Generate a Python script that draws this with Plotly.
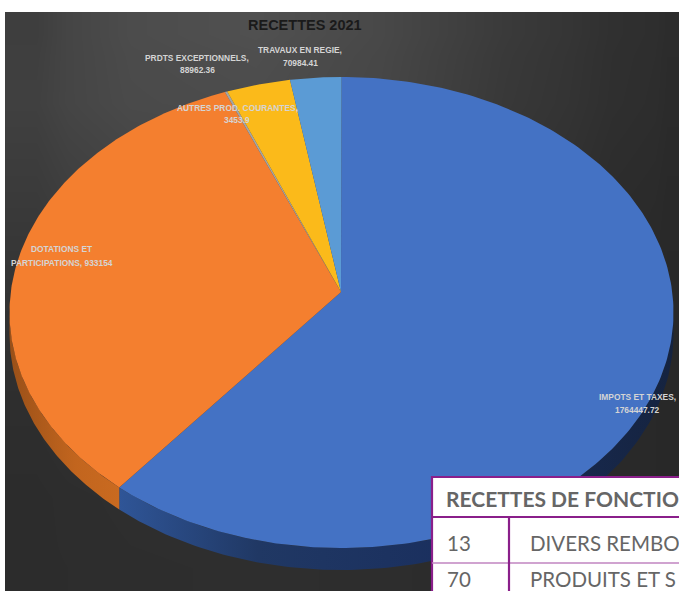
import numpy as np
import plotly.graph_objects as go

# ---------- data ----------
CATEGORIES = ["IMPOTS ET TAXES", "DOTATIONS ET PARTICIPATIONS", "AUTRES PROD. COURANTES",
              "PRDTS EXCEPTIONNELS", "TRAVAUX EN REGIE"]
VALUES = [1764447.72, 933154.00, 3453.90, 88962.36, 70984.41]
COLORS = ["#4472C4", "#F47F2F", "#A5A5A5", "#FBBA1A", "#5B9BD5"]
TITLE = "RECETTES 2021"
LABEL_LINES = [
    ("IMPOTS ET TAXES,", "1764447.72"),
    ("DOTATIONS ET", "PARTICIPATIONS, 933154"),
    ("AUTRES PROD. COURANTES,", "3453.9"),
    ("PRDTS EXCEPTIONNELS,", "88962.36"),
    ("TRAVAUX EN REGIE,", "70984.41"),
]

BG_X = [5, 68, 193, 318, 443, 568, 655, 679]
BG_Y = [12, 56, 150, 250, 350, 450, 545, 591]
BG_GREY = [
    [0x3e, 0x4c, 0x50, 0x48, 0x3a, 0x30, 0x2c],
    [0x40, 0x4a, 0x4c, 0x46, 0x38, 0x2f, 0x2b],
    [0x3a, 0x42, 0x44, 0x40, 0x34, 0x2c, 0x29],
    [0x33, 0x3a, 0x3c, 0x38, 0x30, 0x2a, 0x28],
    [0x2e, 0x32, 0x34, 0x32, 0x2c, 0x29, 0x28],
    [0x2c, 0x2e, 0x2f, 0x2e, 0x2b, 0x29, 0x28],
    [0x2c, 0x2d, 0x2e, 0x2d, 0x2b, 0x29, 0x28],
]

TABLE_HEADER = "RECETTES DE FONCTIO"
TABLE_CODES = ["13", "70"]
TABLE_ROWS = ["DIVERS REMBO", "PRODUITS ET S"]

# ---------- geometry ----------
W, H = 679, 591
APEX = (341, 292)
CX, CY, RX, RY = 341.5, 312.5, 332, 235.5
DEPTH = 22


def rim(theta, dy=0.0):
    return CX + RX * np.sin(theta), CY - RY * np.cos(theta) + dy


fig = go.Figure()
fig.add_trace(go.Heatmap(x=BG_X, y=BG_Y, z=BG_GREY, zmin=0, zmax=255, zsmooth="best",
                         colorscale=[[0, "#000000"], [1, "#ffffff"]], showscale=False,
                         hoverinfo="skip"))

fracs = np.array(VALUES) / np.sum(VALUES)
edges = np.concatenate([[0], np.cumsum(fracs)]) * 2 * np.pi

# side wall (only the front half of the rim is visible)
SIDE_GRADIENT = {
    0: [[0, "#2F5597"], [0.25, "#203864"], [0.6, "#1A2F5E"], [1, "#15233F"]],
    1: [[0, "#9A5018"], [0.6, "#C2651E"], [1, "#C96A20"]],
}
for i, grad in SIDE_GRADIENT.items():
    a = max(edges[i], np.pi / 2)
    b = min(edges[i + 1], 3 * np.pi / 2)
    t = np.linspace(a, b, 120)
    x1, y1 = rim(t)
    x2, y2 = rim(t[::-1], DEPTH)
    fig.add_trace(go.Scatter(
        x=np.concatenate([x1, x2]), y=np.concatenate([y1, y2]), mode="lines",
        line=dict(width=0), fill="toself", hoverinfo="skip",
        fillgradient=dict(type="horizontal", colorscale=grad),
    ))

# top face
for i, c in enumerate(COLORS):
    t = np.linspace(edges[i], edges[i + 1], 240)
    x, y = rim(t)
    fig.add_trace(go.Scatter(
        x=np.concatenate([[APEX[0]], x, [APEX[0]]]),
        y=np.concatenate([[APEX[1]], y, [APEX[1]]]),
        mode="lines", line=dict(width=0), fill="toself", fillcolor=c, hoverinfo="skip",
    ))

# table overlay
PURPLE, PURPLE_LIGHT = "#8A1F8A", "#C184C1"
shapes = [
    dict(type="rect", x0=432, y0=477, x1=W + 5, y1=H + 5, fillcolor="#ffffff",
         line=dict(color=PURPLE, width=2.2), layer="above"),
    dict(type="line", x0=432, y0=517, x1=W, y1=517, line=dict(color=PURPLE, width=2.2), layer="above"),
    dict(type="line", x0=432, y0=563, x1=W, y1=563, line=dict(color=PURPLE_LIGHT, width=1.5), layer="above"),
    dict(type="line", x0=509, y0=517, x1=509, y1=H, line=dict(color=PURPLE, width=2.2), layer="above"),
]

LABEL_FONT = dict(family="Liberation Sans", size=8.4, color="#D4D4D4")
LABEL_POS = [(637, 397, 410), (62, 249, 263), (237, 108, 120), (197, 58, 70), (300, 50, 63)]
annotations = []
for lines, (lx, y1, y2) in zip(LABEL_LINES, LABEL_POS):
    for txt, ly in zip(lines, (y1, y2)):
        annotations.append(dict(x=lx, y=ly, text=f"<b>{txt}</b>", showarrow=False,
                                font=LABEL_FONT, xanchor="center", yanchor="middle"))
annotations.append(dict(x=305, y=25, text=f"<b>{TITLE}</b>", showarrow=False,
                        font=dict(family="Liberation Sans", size=14.5, color="#1A1A1A")))

annotations.append(dict(x=444, y=498, text=f"<b>{TABLE_HEADER}</b>", showarrow=False, xanchor="left",
                        font=dict(family="Lato", size=21, color="#666666")))
ROW_FONT = dict(family="Lato", size=20.5, color="#666666")
for code, row, yy in zip(TABLE_CODES, TABLE_ROWS, [543, 579]):
    annotations.append(dict(x=445, y=yy, text=code, showarrow=False, xanchor="left", font=ROW_FONT))
    annotations.append(dict(x=528, y=yy, text=row, showarrow=False, xanchor="left", font=ROW_FONT))

fig.update_layout(
    width=W, height=H, margin=dict(l=0, r=0, t=0, b=0), showlegend=False,
    paper_bgcolor="#ffffff", plot_bgcolor="#ffffff",
    xaxis=dict(range=[0, W], visible=False, fixedrange=True),
    yaxis=dict(range=[H, 0], visible=False, fixedrange=True),
    shapes=shapes, annotations=annotations,
)
fig.write_html("out.html", config=dict(displayModeBar=False),
               post_script="document.body.style.margin='0';document.documentElement.style.overflow='hidden';")
